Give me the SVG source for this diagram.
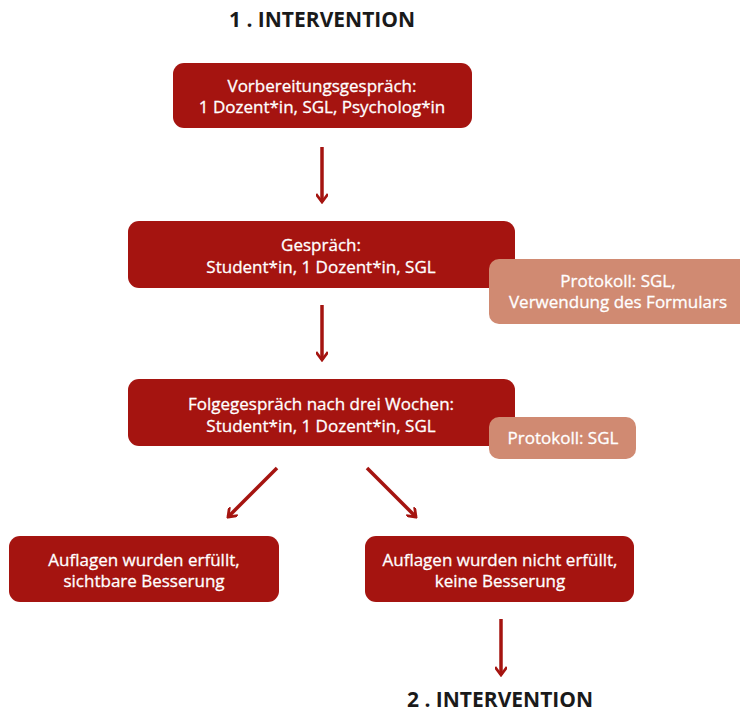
<svg xmlns="http://www.w3.org/2000/svg" width="740" height="713" viewBox="0 0 740 713">
  <defs>
    <style>
      .box { fill: #a51410; }
      .note { fill: #d08a72; }
      .t { font-family: "Open Sans", "Liberation Sans", sans-serif; font-size: 17px; fill: #ffffff; stroke: #ffffff; stroke-width: 0.3; text-anchor: middle; }
      .title { font-family: "Open Sans", "Liberation Sans", sans-serif; font-size: 21px; font-weight: bold; fill: #1a1a1a; text-anchor: middle; }
      .c { stroke: #a51410; stroke-width: 3.5; fill: none; stroke-linecap: butt; stroke-linejoin: miter; }
    </style>
    <marker id="ah" viewBox="0 0 12 12" refX="10" refY="6" markerWidth="12" markerHeight="12" markerUnits="userSpaceOnUse" orient="auto">
      <path d="M2,0 L10,6 L2,12" fill="none" stroke="#a51410" stroke-width="2.8"/>
    </marker>
  </defs>
  <rect width="740" height="713" fill="#ffffff"/>

  <g id="title1"><text class="title" x="322" y="27">1 . INTERVENTION</text></g>

  <g id="node1">
    <rect class="box" x="173" y="63" width="299" height="65" rx="11"/>
    <text class="t" x="322" y="92">Vorbereitungsgespräch:</text>
    <text class="t" x="322" y="113">1 Dozent*in, SGL, Psycholog*in</text>
  </g>

  <g id="node2">
    <rect class="box" x="128" y="221" width="387" height="67" rx="11"/>
    <text class="t" x="321" y="251">Gespräch:</text>
    <text class="t" x="321" y="273">Student*in, 1 Dozent*in, SGL</text>
  </g>

  <g id="note1">
    <rect class="note" x="489" y="259" width="262" height="65" rx="10"/>
    <text class="t" x="618" y="287">Protokoll: SGL,</text>
    <text class="t" x="618" y="308">Verwendung des Formulars</text>
  </g>

  <g id="node3">
    <rect class="box" x="128" y="379" width="387" height="67" rx="11"/>
    <text class="t" x="321" y="410">Folgegespräch nach drei Wochen:</text>
    <text class="t" x="321" y="432">Student*in, 1 Dozent*in, SGL</text>
  </g>

  <g id="note2">
    <rect class="note" x="489" y="417" width="147" height="42" rx="10"/>
    <text class="t" x="563" y="444">Protokoll: SGL</text>
  </g>

  <g id="node4">
    <rect class="box" x="9" y="536" width="270" height="66" rx="11"/>
    <text class="t" x="144" y="566">Auflagen wurden erfüllt,</text>
    <text class="t" x="144" y="587">sichtbare Besserung</text>
  </g>

  <g id="node5">
    <rect class="box" x="365" y="536" width="269" height="66" rx="11"/>
    <text class="t" x="500" y="566">Auflagen wurden nicht erfüllt,</text>
    <text class="t" x="500" y="587">keine Besserung</text>
  </g>

  <g id="title2"><text class="title" x="500" y="707">2 . INTERVENTION</text></g>

  <g id="connectors">
    <line class="c" x1="322" y1="147" x2="322" y2="202" marker-end="url(#ah)"/>
    <line class="c" x1="322" y1="305" x2="322" y2="360" marker-end="url(#ah)"/>
    <line class="c" x1="277" y1="468" x2="228" y2="517" marker-end="url(#ah)"/>
    <line class="c" x1="367" y1="468" x2="416" y2="517" marker-end="url(#ah)"/>
    <line class="c" x1="501" y1="619" x2="501" y2="675" marker-end="url(#ah)"/>
  </g>
</svg>
